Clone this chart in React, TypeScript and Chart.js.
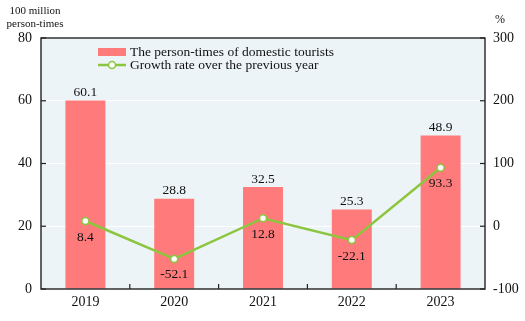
import React, { useEffect, useRef } from "react";
import { Chart, registerables } from "chart.js";

Chart.register(...registerables);

const categories = ["2019", "2020", "2021", "2022", "2023"];
const touristTimes = [60.1, 28.8, 32.5, 25.3, 48.9];
const growthRate = [8.4, -52.1, 12.8, -22.1, 93.3];
const leftTicks = [0, 20, 40, 60, 80];
const rightTicks = [-100, 0, 100, 200, 300];
const barLabel = "The person-times of domestic tourists";
const lineLabel = "Growth rate over the previous year";
const leftTitle = ["100 million", "person-times"];
const rightTitle = "%";

const FONT = "'Liberation Serif', 'Times New Roman', serif";
const BAR_COLOR = "#ff7a7a";
const LINE_COLOR = "#8cc63f";
const BG = "#edf4f7";

const decorPlugin = {
  id: "decor",
  beforeDraw(chart: any) {
    const { ctx, chartArea: a } = chart;
    ctx.save();
    ctx.fillStyle = BG;
    ctx.fillRect(a.left, a.top, a.right - a.left, a.bottom - a.top);
    ctx.restore();
  },
  afterDatasetsDraw(chart: any) {
    const { ctx, chartArea: a, scales } = chart;
    ctx.save();
    // frame
    ctx.strokeStyle = "#222";
    ctx.lineWidth = 1.4;
    ctx.strokeRect(a.left, a.top, a.right - a.left, a.bottom - a.top);
    // ticks inward
    ctx.lineWidth = 1.2;
    leftTicks.forEach((v) => {
      const y = scales.y.getPixelForValue(v);
      ctx.beginPath();
      ctx.moveTo(a.left, y);
      ctx.lineTo(a.left + 5, y);
      ctx.stroke();
    });
    rightTicks.forEach((v) => {
      const y = scales.y1.getPixelForValue(v);
      ctx.beginPath();
      ctx.moveTo(a.right, y);
      ctx.lineTo(a.right - 5, y);
      ctx.stroke();
    });
    const step = (a.right - a.left) / categories.length;
    for (let i = 1; i < categories.length; i++) {
      const x = a.left + step * i;
      ctx.beginPath();
      ctx.moveTo(x, a.bottom);
      ctx.lineTo(x, a.bottom - 5);
      ctx.stroke();
    }
    // data labels
    ctx.fillStyle = "#111";
    ctx.font = `13.5px ${FONT}`;
    ctx.textAlign = "center";
    ctx.textBaseline = "middle";
    const barMeta = chart.getDatasetMeta(0);
    barMeta.data.forEach((el: any, i: number) => {
      ctx.fillText(touristTimes[i].toFixed(1), el.x, el.y - 8);
    });
    const lineMeta = chart.getDatasetMeta(1);
    lineMeta.data.forEach((el: any, i: number) => {
      ctx.fillText(growthRate[i].toFixed(1), el.x, el.y + 16);
    });
    // legend
    ctx.textAlign = "left";
    ctx.fillStyle = BAR_COLOR;
    ctx.fillRect(98, 48, 28, 8);
    ctx.strokeStyle = LINE_COLOR;
    ctx.lineWidth = 2.5;
    ctx.beginPath();
    ctx.moveTo(98, 65);
    ctx.lineTo(126, 65);
    ctx.stroke();
    ctx.beginPath();
    ctx.arc(112, 65, 3.5, 0, Math.PI * 2);
    ctx.fillStyle = "#fff";
    ctx.fill();
    ctx.lineWidth = 1.5;
    ctx.stroke();
    ctx.fillStyle = "#111";
    ctx.font = `13.5px ${FONT}`;
    ctx.fillText(barLabel, 130, 52);
    ctx.fillText(lineLabel, 130, 65);
    // axis titles
    ctx.textAlign = "center";
    ctx.font = `11px ${FONT}`;
    ctx.fillText(leftTitle[0], 35, 11);
    ctx.fillText(leftTitle[1], 35, 24);
    ctx.font = `12px ${FONT}`;
    ctx.fillText(rightTitle, 500, 20);
    ctx.restore();
  },
};

export default function App() {
  const ref = useRef<HTMLCanvasElement>(null);
  useEffect(() => {
    document.body.style.margin = "0";
    const chart = new Chart(ref.current!, {
      type: "bar",
      data: {
        labels: categories,
        datasets: [
          {
            type: "bar",
            label: barLabel,
            data: touristTimes,
            backgroundColor: BAR_COLOR,
            yAxisID: "y",
            categoryPercentage: 1,
            barPercentage: 0.45,
            order: 2,
          },
          {
            type: "line",
            label: lineLabel,
            data: growthRate,
            borderColor: LINE_COLOR,
            borderWidth: 2.5,
            pointBackgroundColor: "#fff",
            pointBorderColor: LINE_COLOR,
            pointBorderWidth: 1.5,
            pointRadius: 3.5,
            yAxisID: "y1",
            order: 1,
          } as any,
        ],
      },
      options: {
        animation: false,
        responsive: false,
        layout: { padding: { top: 38, left: 0, right: 0, bottom: 0 } },
        plugins: { legend: { display: false }, tooltip: { enabled: false } },
        scales: {
          x: {
            grid: { display: false, drawTicks: false },
            border: { display: false },
            ticks: { color: "#111", font: { family: FONT, size: 14 }, padding: 5 },
            afterFit: (s: any) => { s.height = 32; },
          },
          y: {
            position: "left",
            min: 0,
            max: 80,
            ticks: { stepSize: 20, color: "#111", font: { family: FONT, size: 14 }, padding: 9 },
            grid: { color: "#ffffff", lineWidth: 1, drawTicks: false },
            border: { display: false },
            afterFit: (s: any) => { s.width = 41; },
          },
          y1: {
            position: "right",
            min: -100,
            max: 300,
            ticks: { stepSize: 100, color: "#111", font: { family: FONT, size: 14 }, padding: 8 },
            grid: { display: false, drawTicks: false },
            border: { display: false },
            afterFit: (s: any) => { s.width = 40; },
          },
        },
      },
      plugins: [decorPlugin],
    });
    return () => chart.destroy();
  }, []);
  return <canvas ref={ref} width={525} height={321} style={{ display: "block" }} />;
}
